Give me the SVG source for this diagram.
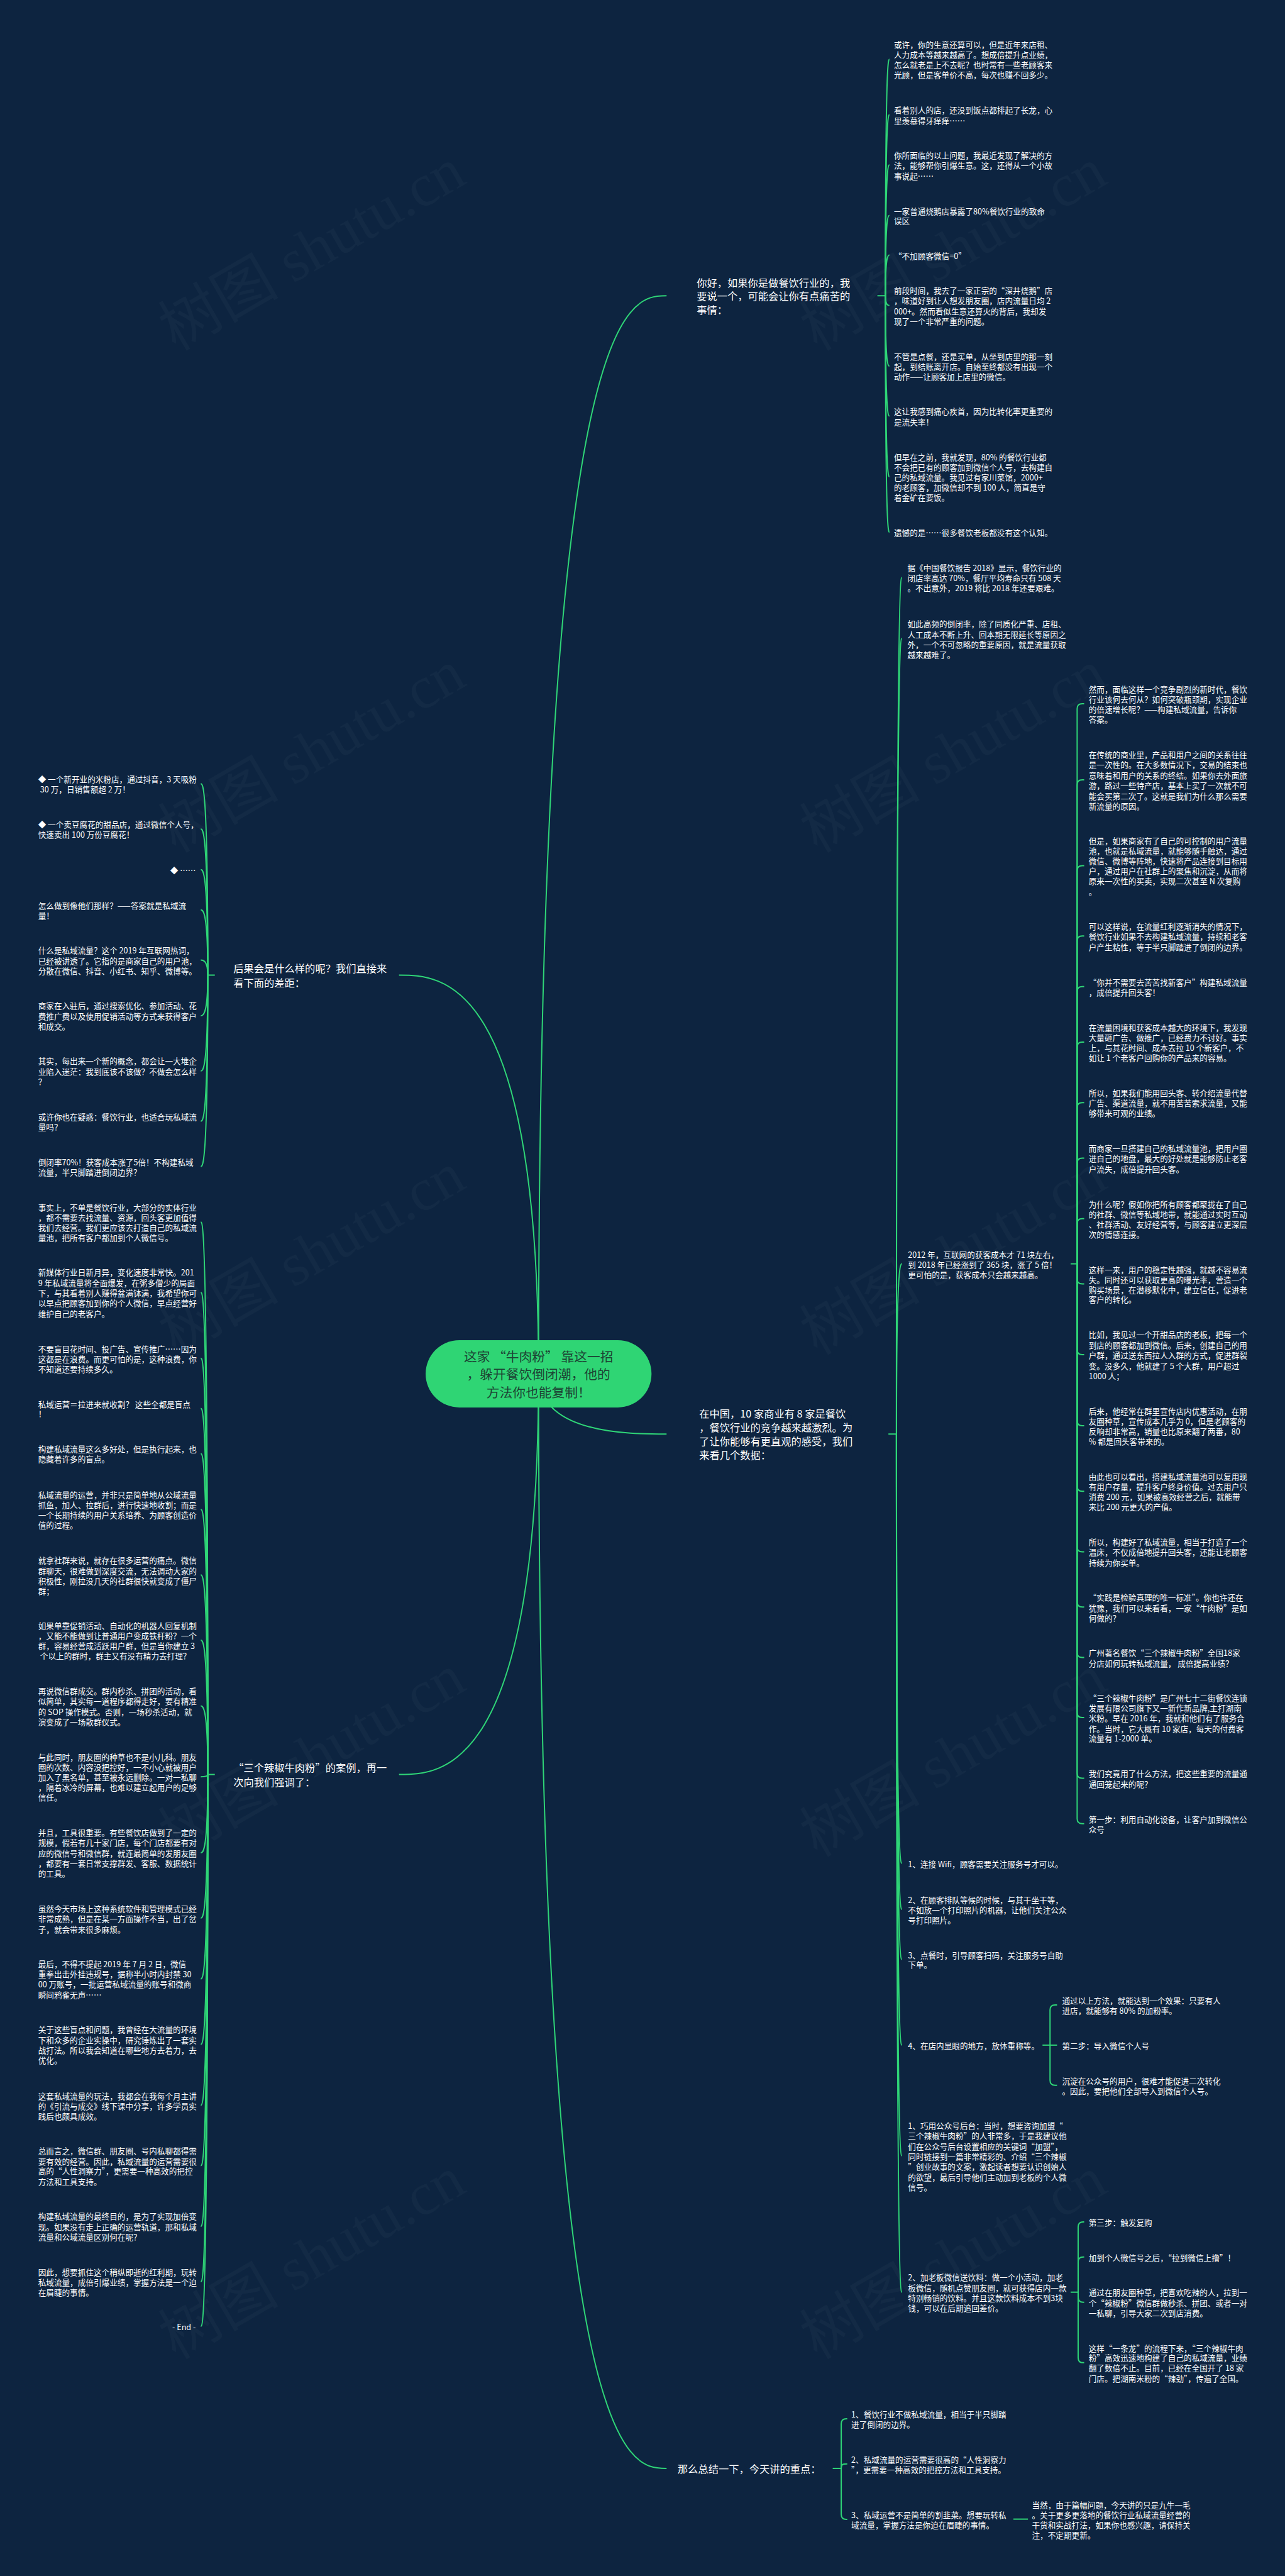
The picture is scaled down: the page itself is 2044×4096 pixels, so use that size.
<svg xmlns="http://www.w3.org/2000/svg" width="2044" height="4096" viewBox="0 0 2044 4096">
<style>
.t{font-family:"Noto Sans CJK SC","Noto Sans",sans-serif;font-size:15.8px;fill:#ffffff;dominant-baseline:central}
.b{font-family:"Noto Sans CJK SC","Noto Sans",sans-serif;font-size:20.4px;fill:#ffffff;dominant-baseline:central}
.m{font-family:"Noto Sans CJK SC","Noto Sans",sans-serif;font-size:26px;fill:#1d4434;dominant-baseline:central;text-anchor:middle}
.e{text-anchor:end}
.c path{fill:none;stroke:#2fd577;stroke-width:2.5}
.w{font-family:"Liberation Serif","Noto Sans CJK SC",serif;font-size:120px;fill:#ffffff;fill-opacity:0.028}
</style>
<rect width="2044" height="4096" fill="#0d2440"/>
<g transform="scale(0.7984)">
<g id="watermarks">
<text class="w" transform="translate(350,700) rotate(-30)">树图 shutu.cn</text>
<text class="w" transform="translate(350,1700) rotate(-30)">树图 shutu.cn</text>
<text class="w" transform="translate(350,2700) rotate(-30)">树图 shutu.cn</text>
<text class="w" transform="translate(350,3700) rotate(-30)">树图 shutu.cn</text>
<text class="w" transform="translate(350,4700) rotate(-30)">树图 shutu.cn</text>
<text class="w" transform="translate(1628,700) rotate(-30)">树图 shutu.cn</text>
<text class="w" transform="translate(1628,1700) rotate(-30)">树图 shutu.cn</text>
<text class="w" transform="translate(1628,2700) rotate(-30)">树图 shutu.cn</text>
<text class="w" transform="translate(1628,3700) rotate(-30)">树图 shutu.cn</text>
<text class="w" transform="translate(1628,4700) rotate(-30)">树图 shutu.cn</text>
</g>
<g id="connectors" class="c">
<path d="M1073,2736C1073,589 1251.5,589 1328,589"/>
<path d="M1073,2736C1073,2856 1251.5,2856 1328,2856"/>
<path d="M1073,2736C1073,4916 1251.5,4916 1328,4916"/>
<path d="M1073,2736C1073,1942 878.4,1942 795,1942"/>
<path d="M1073,2736C1073,3534 878.4,3534 795,3534"/>
<path d="M1748,589H1764"/>
<path d="M1764,589C1764,118 1769.6,118 1772,118"/>
<path d="M1764,589C1764,228.5 1769.6,228.5 1772,228.5"/>
<path d="M1764,589C1764,328.5 1769.6,328.5 1772,328.5"/>
<path d="M1764,589C1764,429 1769.6,429 1772,429"/>
<path d="M1764,589C1764,508 1769.6,508 1772,508"/>
<path d="M1764,589C1764,608.5 1769.6,608.5 1772,608.5"/>
<path d="M1764,589C1764,729 1769.6,729 1772,729"/>
<path d="M1764,589C1764,828.5 1769.6,828.5 1772,828.5"/>
<path d="M1764,589C1764,949.5 1769.6,949.5 1772,949.5"/>
<path d="M1764,589C1764,1060 1769.6,1060 1772,1060"/>
<path d="M1770,2856H1786"/>
<path d="M1786,2856C1786,1150 1793.7,1150 1797,1150"/>
<path d="M1786,2856C1786,1271.5 1793.7,1271.5 1797,1271.5"/>
<path d="M1786,2856C1786,2517 1793.7,2517 1797,2517"/>
<path d="M1786,2856C1786,3711 1793.7,3711 1797,3711"/>
<path d="M1786,2856C1786,3802.5 1793.7,3802.5 1797,3802.5"/>
<path d="M1786,2856C1786,3902.5 1793.7,3902.5 1797,3902.5"/>
<path d="M1786,2856C1786,4073 1793.7,4073 1797,4073"/>
<path d="M1786,2856C1786,4293.5 1793.7,4293.5 1797,4293.5"/>
<path d="M1786,2856C1786,4565 1793.7,4565 1797,4565"/>
<path d="M428,1942H414"/>
<path d="M414,1942C414,1561 404.2,1561 400,1561"/>
<path d="M414,1942C414,1651 404.2,1651 400,1651"/>
<path d="M414,1942C414,1732 404.2,1732 400,1732"/>
<path d="M414,1942C414,1812 404.2,1812 400,1812"/>
<path d="M414,1942C414,1912 404.2,1912 400,1912"/>
<path d="M414,1942C414,2023 404.2,2023 400,2023"/>
<path d="M414,1942C414,2133 404.2,2133 400,2133"/>
<path d="M414,1942C414,2233 404.2,2233 400,2233"/>
<path d="M414,1942C414,2323 404.2,2323 400,2323"/>
<path d="M428,3534H414"/>
<path d="M414,3534C414,2434 404.2,2434 400,2434"/>
<path d="M414,3534C414,2574 404.2,2574 400,2574"/>
<path d="M414,3534C414,2705 404.2,2705 400,2705"/>
<path d="M414,3534C414,2805 404.2,2805 400,2805"/>
<path d="M414,3534C414,2895 404.2,2895 400,2895"/>
<path d="M414,3534C414,3006 404.2,3006 400,3006"/>
<path d="M414,3534C414,3136.5 404.2,3136.5 400,3136.5"/>
<path d="M414,3534C414,3266.5 404.2,3266.5 400,3266.5"/>
<path d="M414,3534C414,3397.5 404.2,3397.5 400,3397.5"/>
<path d="M414,3534C414,3538.5 404.2,3538.5 400,3538.5"/>
<path d="M414,3534C414,3690 404.2,3690 400,3690"/>
<path d="M414,3534C414,3820 404.2,3820 400,3820"/>
<path d="M414,3534C414,3941 404.2,3941 400,3941"/>
<path d="M414,3534C414,4071.5 404.2,4071.5 400,4071.5"/>
<path d="M414,3534C414,4193 404.2,4193 400,4193"/>
<path d="M414,3534C414,4313 404.2,4313 400,4313"/>
<path d="M414,3534C414,4434 404.2,4434 400,4434"/>
<path d="M414,3534C414,4544 404.2,4544 400,4544"/>
<path d="M414,3534C414,4633 404.2,4633 400,4633"/>
<path d="M2133,2517H2146"/>
<path d="M2146,2517V1411.5Q2146,1401.5 2156,1401.5H2160"/>
<path d="M2146,2517V1563Q2146,1553 2156,1553H2160"/>
<path d="M2146,2517V1734Q2146,1724 2156,1724H2160"/>
<path d="M2146,2517V1874Q2146,1864 2156,1864H2160"/>
<path d="M2146,2517V1975Q2146,1965 2156,1965H2160"/>
<path d="M2146,2517V2085.5Q2146,2075.5 2156,2075.5H2160"/>
<path d="M2146,2517V2206Q2146,2196 2156,2196H2160"/>
<path d="M2146,2517V2316.5Q2146,2306.5 2156,2306.5H2160"/>
<path d="M2146,2517V2437Q2146,2427 2156,2427H2160"/>
<path d="M2146,2517V2547Q2146,2557 2156,2557H2160"/>
<path d="M2146,2517V2688Q2146,2698 2156,2698H2160"/>
<path d="M2146,2517V2829.5Q2146,2839.5 2156,2839.5H2160"/>
<path d="M2146,2517V2960Q2146,2970 2156,2970H2160"/>
<path d="M2146,2517V3080.5Q2146,3090.5 2156,3090.5H2160"/>
<path d="M2146,2517V3190.5Q2146,3200.5 2156,3200.5H2160"/>
<path d="M2146,2517V3291Q2146,3301 2156,3301H2160"/>
<path d="M2146,2517V3410.5Q2146,3420.5 2156,3420.5H2160"/>
<path d="M2146,2517V3531.5Q2146,3541.5 2156,3541.5H2160"/>
<path d="M2146,2517V3622Q2146,3632 2156,3632H2160"/>
<path d="M2077,4073H2092"/>
<path d="M2092,4073V4003Q2092,3993 2102,3993H2106"/>
<path d="M2092,4073H2106"/>
<path d="M2092,4073V4143Q2092,4153 2102,4153H2106"/>
<path d="M2133,4565H2148"/>
<path d="M2148,4565V4435Q2148,4425 2158,4425H2160"/>
<path d="M2148,4565V4505Q2148,4495 2158,4495H2160"/>
<path d="M2148,4565V4575Q2148,4585 2158,4585H2160"/>
<path d="M2148,4565V4695.5Q2148,4705.5 2158,4705.5H2160"/>
<path d="M1659,4916H1676"/>
<path d="M1676,4916V4827Q1676,4817 1686,4817H1688"/>
<path d="M1676,4916C1676,4907 1680,4907 1688,4907"/>
<path d="M1676,4916V5007.5Q1676,5017.5 1686,5017.5H1688"/>
<path d="M2019,5017H2048"/>
</g>
<g id="n0">
<rect x="848" y="2669" width="450" height="134" rx="67" fill="#2fd574"/>
<text class="m"><tspan x="1073" y="2700">这家 “牛肉粉” 靠这一招</tspan><tspan x="1073" y="2736">，躲开餐饮倒闭潮，他的</tspan><tspan x="1073" y="2772">方法你也能复制！</tspan></text>
</g>
<g id="b1"><text class="b"><tspan x="1388" y="562">你好，如果你是做餐饮行业的，我</tspan><tspan x="1388" y="589">要说一个，可能会让你有点痛苦的</tspan><tspan x="1388" y="616">事情：</tspan></text></g>
<g id="b2"><text class="b"><tspan x="1393" y="2815">在中国，10 家商业有 8 家是餐饮</tspan><tspan x="1393" y="2842">，餐饮行业的竞争越来越激烈。为</tspan><tspan x="1393" y="2870">了让你能够有更直观的感受，我们</tspan><tspan x="1393" y="2897">来看几个数据：</tspan></text></g>
<g id="b3"><text class="b"><tspan x="465" y="1928">后果会是什么样的呢？我们直接来</tspan><tspan x="465" y="1956">看下面的差距：</tspan></text></g>
<g id="b4"><text class="b"><tspan x="465" y="3520">“三个辣椒牛肉粉”的案例，再一</tspan><tspan x="465" y="3548">次向我们强调了：</tspan></text></g>
<g id="b5"><text class="b"><tspan x="1350" y="4916">那么总结一下，今天讲的重点：</tspan></text></g>
<g id="b1-1"><text class="t"><tspan x="1781" y="88">或许，你的生意还算可以，但是近年来店租、</tspan><tspan x="1781" y="108">人力成本等越来越高了。想成倍提升点业绩，</tspan><tspan x="1781" y="128">怎么就老是上不去呢？也时常有一些老顾客来</tspan><tspan x="1781" y="148">光顾，但是客单价不高，每次也赚不回多少。</tspan></text></g>
<g id="b1-2"><text class="t"><tspan x="1781" y="218">看着别人的店，还没到饭点都排起了长龙，心</tspan><tspan x="1781" y="239">里羡慕得牙痒痒……</tspan></text></g>
<g id="b1-3"><text class="t"><tspan x="1781" y="308">你所面临的以上问题，我最近发现了解决的方</tspan><tspan x="1781" y="328">法，能够帮你引爆生意。这，还得从一个小故</tspan><tspan x="1781" y="349">事说起……</tspan></text></g>
<g id="b1-4"><text class="t"><tspan x="1781" y="419">一家普通烧鹅店暴露了80%餐饮行业的致命</tspan><tspan x="1781" y="439">误区</tspan></text></g>
<g id="b1-5"><text class="t"><tspan x="1781" y="508">“不加顾客微信=0”</tspan></text></g>
<g id="b1-6"><text class="t"><tspan x="1781" y="578">前段时间，我去了一家正宗的“深井烧鹅”店</tspan><tspan x="1781" y="598">，味道好到让人想发朋友圈，店内流量日均 2</tspan><tspan x="1781" y="619">000+。然而看似生意还算火的背后，我却发</tspan><tspan x="1781" y="639">现了一个非常严重的问题。</tspan></text></g>
<g id="b1-7"><text class="t"><tspan x="1781" y="709">不管是点餐，还是买单，从坐到店里的那一刻</tspan><tspan x="1781" y="729">起，到结账离开店。自始至终都没有出现一个</tspan><tspan x="1781" y="749">动作——让顾客加上店里的微信。</tspan></text></g>
<g id="b1-8"><text class="t"><tspan x="1781" y="818">这让我感到痛心疾首，因为比转化率更重要的</tspan><tspan x="1781" y="839">是流失率！</tspan></text></g>
<g id="b1-9"><text class="t"><tspan x="1781" y="909">但早在之前，我就发现，80% 的餐饮行业都</tspan><tspan x="1781" y="929">不会把已有的顾客加到微信个人号，去构建自</tspan><tspan x="1781" y="950">己的私域流量。我见过有家川菜馆，2000+</tspan><tspan x="1781" y="970">的老顾客，加微信却不到 100 人，简直是守</tspan><tspan x="1781" y="990">着金矿在要饭。</tspan></text></g>
<g id="b1-10"><text class="t"><tspan x="1781" y="1060">遗憾的是……很多餐饮老板都没有这个认知。</tspan></text></g>
<g id="b2-1"><text class="t"><tspan x="1808" y="1130">据《中国餐饮报告 2018》显示，餐饮行业的</tspan><tspan x="1808" y="1150">闭店率高达 70%，餐厅平均寿命只有 508 天</tspan><tspan x="1808" y="1170">。不出意外，2019 将比 2018 年还要艰难。</tspan></text></g>
<g id="b2-2"><text class="t"><tspan x="1808" y="1241">如此高频的倒闭率，除了同质化严重、店租、</tspan><tspan x="1808" y="1262">人工成本不断上升、回本期无限延长等原因之</tspan><tspan x="1808" y="1282">外，一个不可忽略的重要原因，就是流量获取</tspan><tspan x="1808" y="1302">越来越难了。</tspan></text></g>
<g id="b2-3"><text class="t"><tspan x="1809" y="2497">2012 年，互联网的获客成本才 71 块左右，</tspan><tspan x="1809" y="2517">到 2018 年已经涨到了 365 块，涨了 5 倍！</tspan><tspan x="1809" y="2537">更可怕的是，获客成本只会越来越高。</tspan></text></g>
<g id="b2-4"><text class="t"><tspan x="1809" y="3711">1、连接 Wifi，顾客需要关注服务号才可以。</tspan></text></g>
<g id="b2-5"><text class="t"><tspan x="1809" y="3782">2、在顾客排队等候的时候，与其干坐干等，</tspan><tspan x="1809" y="3803">不如放一个打印照片的机器，让他们关注公众</tspan><tspan x="1809" y="3823">号打印照片。</tspan></text></g>
<g id="b2-6"><text class="t"><tspan x="1809" y="3893">3、点餐时，引导顾客扫码，关注服务号自助</tspan><tspan x="1809" y="3912">下单。</tspan></text></g>
<g id="b2-7"><text class="t"><tspan x="1809" y="4073">4、在店内显眼的地方，放体重称等。</tspan></text></g>
<g id="b2-8"><text class="t"><tspan x="1809" y="4232">1、巧用公众号后台：当时，想要咨询加盟“</tspan><tspan x="1809" y="4252.5">三个辣椒牛肉粉”的人非常多，于是我建议他</tspan><tspan x="1809" y="4273">们在公众号后台设置相应的关键词“加盟”，</tspan><tspan x="1809" y="4293.5">同时链接到一篇非常精彩的、介绍“三个辣椒</tspan><tspan x="1809" y="4314">”创业故事的文案，激起读者想要认识创始人</tspan><tspan x="1809" y="4334.5">的欲望，最后引导他们主动加到老板的个人微</tspan><tspan x="1809" y="4355">信号。</tspan></text></g>
<g id="b2-9"><text class="t"><tspan x="1809" y="4534">2、加老板微信送饮料：做一个小活动，加老</tspan><tspan x="1809" y="4555">板微信，随机点赞朋友圈，就可获得店内一款</tspan><tspan x="1809" y="4575">特别畅销的饮料。并且这款饮料成本不到3块</tspan><tspan x="1809" y="4596">钱，可以在后期追回差价。</tspan></text></g>
<g id="c1"><text class="t"><tspan x="2169" y="1371">然而，面临这样一个竞争剧烈的新时代，餐饮</tspan><tspan x="2169" y="1391">行业该何去何从？如何突破瓶颈期，实现企业</tspan><tspan x="2169" y="1412">的倍速增长呢？——构建私域流量，告诉你</tspan><tspan x="2169" y="1432">答案。</tspan></text></g>
<g id="c2"><text class="t"><tspan x="2169" y="1502">在传统的商业里，产品和用户之间的关系往往</tspan><tspan x="2169" y="1522">是一次性的。在大多数情况下，交易的结束也</tspan><tspan x="2169" y="1543">意味着和用户的关系的终结。如果你去外面旅</tspan><tspan x="2169" y="1563">游，路过一些特产店，基本上买了一次就不可</tspan><tspan x="2169" y="1584">能会买第二次了。这就是我们为什么那么需要</tspan><tspan x="2169" y="1604">新流量的原因。</tspan></text></g>
<g id="c3"><text class="t"><tspan x="2169" y="1673">但是，如果商家有了自己的可控制的用户流量</tspan><tspan x="2169" y="1693">池，也就是私域流量，就能够随手触达，通过</tspan><tspan x="2169" y="1714">微信、微博等阵地，快速将产品连接到目标用</tspan><tspan x="2169" y="1734">户，通过用户在社群上的聚焦和沉淀，从而将</tspan><tspan x="2169" y="1754">原来一次性的买卖，实现二次甚至 N 次复购</tspan><tspan x="2169" y="1775">。</tspan></text></g>
<g id="c4"><text class="t"><tspan x="2169" y="1844">可以这样说，在流量红利逐渐消失的情况下，</tspan><tspan x="2169" y="1864">餐饮行业如果不去构建私域流量，持续和老客</tspan><tspan x="2169" y="1885">户产生粘性，等于半只脚踏进了倒闭的边界。</tspan></text></g>
<g id="c5"><text class="t"><tspan x="2169" y="1955">“你并不需要去苦苦找新客户”构建私域流量</tspan><tspan x="2169" y="1975">，成倍提升回头客！</tspan></text></g>
<g id="c6"><text class="t"><tspan x="2169" y="2045">在流量困境和获客成本越大的环境下，我发现</tspan><tspan x="2169" y="2065">大量砸广告、做推广，已经费力不讨好。事实</tspan><tspan x="2169" y="2086">上，与其花时间、成本去拉 10 个新客户，不</tspan><tspan x="2169" y="2106">如让 1 个老客户回购你的产品来的容易。</tspan></text></g>
<g id="c7"><text class="t"><tspan x="2169" y="2175">所以，如果我们能用回头客、转介绍流量代替</tspan><tspan x="2169" y="2196">广告、渠道流量，就不用苦苦索求流量，又能</tspan><tspan x="2169" y="2216">够带来可观的业绩。</tspan></text></g>
<g id="c8"><text class="t"><tspan x="2169" y="2286">而商家一旦搭建自己的私域流量池，把用户圈</tspan><tspan x="2169" y="2306">进自己的地盘，最大的好处就是能够防止老客</tspan><tspan x="2169" y="2327">户流失，成倍提升回头客。</tspan></text></g>
<g id="c9"><text class="t"><tspan x="2169" y="2397">为什么呢？假如你把所有顾客都聚拢在了自己</tspan><tspan x="2169" y="2417">的社群、微信等私域地带，就能通过实时互动</tspan><tspan x="2169" y="2438">、社群活动、友好经营等，与顾客建立更深层</tspan><tspan x="2169" y="2457">次的情感连接。</tspan></text></g>
<g id="c10"><text class="t"><tspan x="2169" y="2527">这样一来，用户的稳定性越强，就越不容易流</tspan><tspan x="2169" y="2548">失。同时还可以获取更高的曝光率，营造一个</tspan><tspan x="2169" y="2568">购买场景，在潜移默化中，建立信任，促进老</tspan><tspan x="2169" y="2587">客户的转化。</tspan></text></g>
<g id="c11"><text class="t"><tspan x="2169" y="2657">比如，我见过一个开甜品店的老板，把每一个</tspan><tspan x="2169" y="2678">到店的顾客都加到微信。后来，创建自己的用</tspan><tspan x="2169" y="2698">户群，通过送东西拉人入群的方式，促进群裂</tspan><tspan x="2169" y="2719">变。没多久，他就建了 5 个大群，用户超过</tspan><tspan x="2169" y="2739">1000 人；</tspan></text></g>
<g id="c12"><text class="t"><tspan x="2169" y="2809">后来，他经常在群里宣传店内优惠活动，在朋</tspan><tspan x="2169" y="2829">友圈种草，宣传成本几乎为 0，但是老顾客的</tspan><tspan x="2169" y="2850">反响却非常高，销量也比原来翻了两番，80</tspan><tspan x="2169" y="2870">% 都是回头客带来的。</tspan></text></g>
<g id="c13"><text class="t"><tspan x="2169" y="2940">由此也可以看出，搭建私域流量池可以复用现</tspan><tspan x="2169" y="2960">有用户存量，提升客户终身价值。过去用户只</tspan><tspan x="2169" y="2980">消费 200 元，如果被高效经营之后，就能带</tspan><tspan x="2169" y="3000">来比 200 元更大的产值。</tspan></text></g>
<g id="c14"><text class="t"><tspan x="2169" y="3070">所以，构建好了私域流量，相当于打造了一个</tspan><tspan x="2169" y="3090">温床，不仅成倍地提升回头客，还能让老顾客</tspan><tspan x="2169" y="3111">持续为你买单。</tspan></text></g>
<g id="c15"><text class="t"><tspan x="2169" y="3180">“实践是检验真理的唯一标准”。你也许还在</tspan><tspan x="2169" y="3201">犹豫，我们可以来看看，一家“牛肉粉”是如</tspan><tspan x="2169" y="3221">何做的？</tspan></text></g>
<g id="c16"><text class="t"><tspan x="2169" y="3290">广州著名餐饮“三个辣椒牛肉粉”全国18家</tspan><tspan x="2169" y="3312">分店如何玩转私域流量， 成倍提高业绩？</tspan></text></g>
<g id="c17"><text class="t"><tspan x="2169" y="3380">“三个辣椒牛肉粉”是广州七十二街餐饮连锁</tspan><tspan x="2169" y="3401">发展有限公司旗下又一新作新品牌,主打湖南</tspan><tspan x="2169" y="3421">米粉。早在 2016 年，我就和他们有了服务合</tspan><tspan x="2169" y="3442">作。当时，它大概有 10 家店，每天的付费客</tspan><tspan x="2169" y="3461">流量有 1-2000 单。</tspan></text></g>
<g id="c18"><text class="t"><tspan x="2169" y="3531">我们究竟用了什么方法，把这些重要的流量通</tspan><tspan x="2169" y="3552">通回笼起来的呢？</tspan></text></g>
<g id="c19"><text class="t"><tspan x="2169" y="3622">第一步：利用自动化设备，让客户加到微信公</tspan><tspan x="2169" y="3642">众号</tspan></text></g>
<g id="d1"><text class="t"><tspan x="2116" y="3983">通过以上方法，就能达到一个效果：只要有人</tspan><tspan x="2116" y="4003">进店，就能够有 80% 的加粉率。</tspan></text></g>
<g id="d2"><text class="t"><tspan x="2116" y="4073">第二步：导入微信个人号</tspan></text></g>
<g id="d3"><text class="t"><tspan x="2116" y="4143">沉淀在公众号的用户，很难才能促进二次转化</tspan><tspan x="2116" y="4163">。因此，要把他们全部导入到微信个人号。</tspan></text></g>
<g id="e1"><text class="t"><tspan x="2169" y="4425">第三步：触发复购</tspan></text></g>
<g id="e2"><text class="t"><tspan x="2169" y="4495">加到个人微信号之后，“拉到微信上撸”！</tspan></text></g>
<g id="e3"><text class="t"><tspan x="2169" y="4564">通过在朋友圈种草，把喜欢吃辣的人，拉到一</tspan><tspan x="2169" y="4585">个“辣椒粉”微信群做秒杀、拼团、或者一对</tspan><tspan x="2169" y="4606">一私聊，引导大家二次到店消费。</tspan></text></g>
<g id="e4"><text class="t"><tspan x="2169" y="4675">这样“一条龙”的流程下来，“三个辣椒牛肉</tspan><tspan x="2169" y="4695">粉”高效迅速地构建了自己的私域流量，业绩</tspan><tspan x="2169" y="4715">翻了数倍不止。目前，已经在全国开了 18 家</tspan><tspan x="2169" y="4736">门店。把湖南米粉的“辣劲”，传遍了全国。</tspan></text></g>
<g id="s1"><text class="t"><tspan x="1696" y="4807">1、餐饮行业不做私域流量，相当于半只脚踏</tspan><tspan x="1696" y="4827">进了倒闭的边界。</tspan></text></g>
<g id="s2"><text class="t"><tspan x="1696" y="4897">2、私域流量的运营需要很高的“人性洞察力</tspan><tspan x="1696" y="4917">”，更需要一种高效的把控方法和工具支持。</tspan></text></g>
<g id="s3"><text class="t"><tspan x="1696" y="5008">3、私域运营不是简单的割韭菜。想要玩转私</tspan><tspan x="1696" y="5027">域流量，掌握方法是你迫在眉睫的事情。</tspan></text></g>
<g id="s3-1"><text class="t"><tspan x="2056" y="4987">当然，由于篇幅问题，今天讲的只是九牛一毛</tspan><tspan x="2056" y="5007">。关于更多更落地的餐饮行业私域流量经营的</tspan><tspan x="2056" y="5027">干货和实战打法，如果你也感兴趣，请保持关</tspan><tspan x="2056" y="5047">注，不定期更新。</tspan></text></g>
<g id="l1"><text class="t"><tspan x="76" y="1550">◆ 一个新开业的米粉店，通过抖音，3 天吸粉</tspan><tspan x="80" y="1571">30 万，日销售额超 2 万！</tspan></text></g>
<g id="l2"><text class="t"><tspan x="76" y="1641">◆ 一个卖豆腐花的甜品店，通过微信个人号，</tspan><tspan x="76" y="1661">快速卖出 100 万份豆腐花！</tspan></text></g>
<g id="l3"><text class="t e"><tspan x="390" y="1732">◆ ……</tspan></text></g>
<g id="l4"><text class="t"><tspan x="76" y="1802">怎么做到像他们那样？——答案就是私域流</tspan><tspan x="76" y="1822">量！</tspan></text></g>
<g id="l5"><text class="t"><tspan x="76" y="1891">什么是私域流量？这个 2019 年互联网热词，</tspan><tspan x="76" y="1912">已经被讲透了。它指的是商家自己的用户池，</tspan><tspan x="76" y="1932">分散在微信、抖音、小红书、知乎、微博等。</tspan></text></g>
<g id="l6"><text class="t"><tspan x="76" y="2002">商家在入驻后，通过搜索优化、参加活动、花</tspan><tspan x="76" y="2023">费推广费以及使用促销活动等方式来获得客户</tspan><tspan x="76" y="2043">和成交。</tspan></text></g>
<g id="l7"><text class="t"><tspan x="76" y="2112">其实，每出来一个新的概念，都会让一大堆企</tspan><tspan x="76" y="2133">业陷入迷茫：我到底该不该做？不做会怎么样</tspan><tspan x="76" y="2153">？</tspan></text></g>
<g id="l8"><text class="t"><tspan x="76" y="2223">或许你也在疑惑：餐饮行业，也适合玩私域流</tspan><tspan x="76" y="2243">量吗？</tspan></text></g>
<g id="l9"><text class="t"><tspan x="76" y="2313">倒闭率70%！获客成本涨了5倍！不构建私域</tspan><tspan x="76" y="2333">流量，半只脚踏进倒闭边界？</tspan></text></g>
<g id="m1"><text class="t"><tspan x="76" y="2403">事实上，不单是餐饮行业，大部分的实体行业</tspan><tspan x="76" y="2423">，都不需要去找流量、资源，回头客更加值得</tspan><tspan x="76" y="2444">我们去经营。我们更应该去打造自己的私域流</tspan><tspan x="76" y="2464">量池，把所有客户都加到个人微信号。</tspan></text></g>
<g id="m2"><text class="t"><tspan x="76" y="2533">新媒体行业日新月异，变化速度非常快。201</tspan><tspan x="76" y="2554">9 年私域流量将全面爆发，在粥多僧少的局面</tspan><tspan x="76" y="2574">下，与其看着别人赚得盆满钵满，我希望你可</tspan><tspan x="76" y="2594">以早点把顾客加到你的个人微信，早点经营好</tspan><tspan x="76" y="2615">维护自己的老客户。</tspan></text></g>
<g id="m3"><text class="t"><tspan x="76" y="2685">不要盲目花时间、投广告、宣传推广……因为</tspan><tspan x="76" y="2705">这都是在浪费。而更可怕的是，这种浪费，你</tspan><tspan x="76" y="2725">不知道还要持续多久。</tspan></text></g>
<g id="m4"><text class="t"><tspan x="76" y="2795">私域运营＝拉进来就收割？ 这些全都是盲点</tspan><tspan x="76" y="2815">！</tspan></text></g>
<g id="m5"><text class="t"><tspan x="76" y="2885">构建私域流量这么多好处，但是执行起来，也</tspan><tspan x="76" y="2905">隐藏着许多的盲点。</tspan></text></g>
<g id="m6"><text class="t"><tspan x="76" y="2976">私域流量的运营，并非只是简单地从公域流量</tspan><tspan x="76" y="2996">抓鱼，加人、拉群后，进行快速地收割；而是</tspan><tspan x="76" y="3016">一个长期持续的用户关系培养、为顾客创造价</tspan><tspan x="76" y="3036">值的过程。</tspan></text></g>
<g id="m7"><text class="t"><tspan x="76" y="3106">就拿社群来说，就存在很多运营的痛点。微信</tspan><tspan x="76" y="3127">群聊天，很难做到深度交流，无法调动大家的</tspan><tspan x="76" y="3147">积极性，刚拉没几天的社群很快就变成了僵尸</tspan><tspan x="76" y="3167">群；</tspan></text></g>
<g id="m8"><text class="t"><tspan x="76" y="3236">如果单靠促销活动、自动化的机器人回复机制</tspan><tspan x="76" y="3257">，又能不能做到让普通用户变成铁杆粉？一个</tspan><tspan x="76" y="3277">群，容易经营成活跃用户群，但是当你建立 3</tspan><tspan x="80" y="3297">个以上的群时，群主又有没有精力去打理？</tspan></text></g>
<g id="m9"><text class="t"><tspan x="76" y="3367">再说微信群成交。群内秒杀、拼团的活动，看</tspan><tspan x="76" y="3387">似简单，其实每一道程序都得走好，要有精准</tspan><tspan x="76" y="3408">的 SOP 操作模式。否则，一场秒杀活动，就</tspan><tspan x="76" y="3428">演变成了一场散群仪式。</tspan></text></g>
<g id="m10"><text class="t"><tspan x="76" y="3498">与此同时，朋友圈的种草也不是小儿科。朋友</tspan><tspan x="76" y="3518">圈的次数、内容没把控好，一不小心就被用户</tspan><tspan x="76" y="3538">加入了黑名单，甚至被永远删除。一对一私聊</tspan><tspan x="76" y="3558">，隔着冰冷的屏幕，也难以建立起用户的足够</tspan><tspan x="76" y="3579">信任。</tspan></text></g>
<g id="m11"><text class="t"><tspan x="76" y="3649">并且，工具很重要。有些餐饮店做到了一定的</tspan><tspan x="76" y="3669">规模，假若有几十家门店，每个门店都要有对</tspan><tspan x="76" y="3690">应的微信号和微信群，就连最简单的发朋友圈</tspan><tspan x="76" y="3710">，都要有一套日常支撑群发、客服、数据统计</tspan><tspan x="76" y="3730">的工具。</tspan></text></g>
<g id="m12"><text class="t"><tspan x="76" y="3800">虽然今天市场上这种系统软件和管理模式已经</tspan><tspan x="76" y="3820">非常成熟，但是在某一方面操作不当，出了岔</tspan><tspan x="76" y="3841">子，就会带来很多麻烦。</tspan></text></g>
<g id="m13"><text class="t"><tspan x="76" y="3910">最后，不得不提起 2019 年 7 月 2 日，微信</tspan><tspan x="76" y="3930">重拳出击外挂违规号，据称半小时内封禁 30</tspan><tspan x="76" y="3951">00 万账号，一批运营私域流量的账号和微商</tspan><tspan x="76" y="3972">瞬间鸦雀无声……</tspan></text></g>
<g id="m14"><text class="t"><tspan x="76" y="4041">关于这些盲点和问题，我曾经在大流量的环境</tspan><tspan x="76" y="4062">下和众多的企业实操中，研究锤炼出了一套实</tspan><tspan x="76" y="4082">战打法。所以我会知道在哪些地方去着力，去</tspan><tspan x="76" y="4102">优化。</tspan></text></g>
<g id="m15"><text class="t"><tspan x="76" y="4173">这套私域流量的玩法，我都会在我每个月主讲</tspan><tspan x="76" y="4193">的《引流与成交》线下课中分享，许多学员实</tspan><tspan x="76" y="4213">践后也颇具成效。</tspan></text></g>
<g id="m16"><text class="t"><tspan x="76" y="4282">总而言之，微信群、朋友圈、号内私聊都得需</tspan><tspan x="76" y="4303">要有效的经营。因此，私域流量的运营需要很</tspan><tspan x="76" y="4323">高的“人性洞察力”，更需要一种高效的把控</tspan><tspan x="76" y="4344">方法和工具支持。</tspan></text></g>
<g id="m17"><text class="t"><tspan x="76" y="4413">构建私域流量的最终目的，是为了实现加倍变</tspan><tspan x="76" y="4434">现。如果没有走上正确的运营轨道，那和私域</tspan><tspan x="76" y="4454">流量和公域流量区别何在呢？</tspan></text></g>
<g id="m18"><text class="t"><tspan x="76" y="4524">因此，想要抓住这个稍纵即逝的红利期，玩转</tspan><tspan x="76" y="4544">私域流量，成倍引爆业绩，掌握方法是一个迫</tspan><tspan x="76" y="4564">在眉睫的事情。</tspan></text></g>
<g id="m19"><text class="t e"><tspan x="390" y="4633">- End -</tspan></text></g>
</g>
</svg>
